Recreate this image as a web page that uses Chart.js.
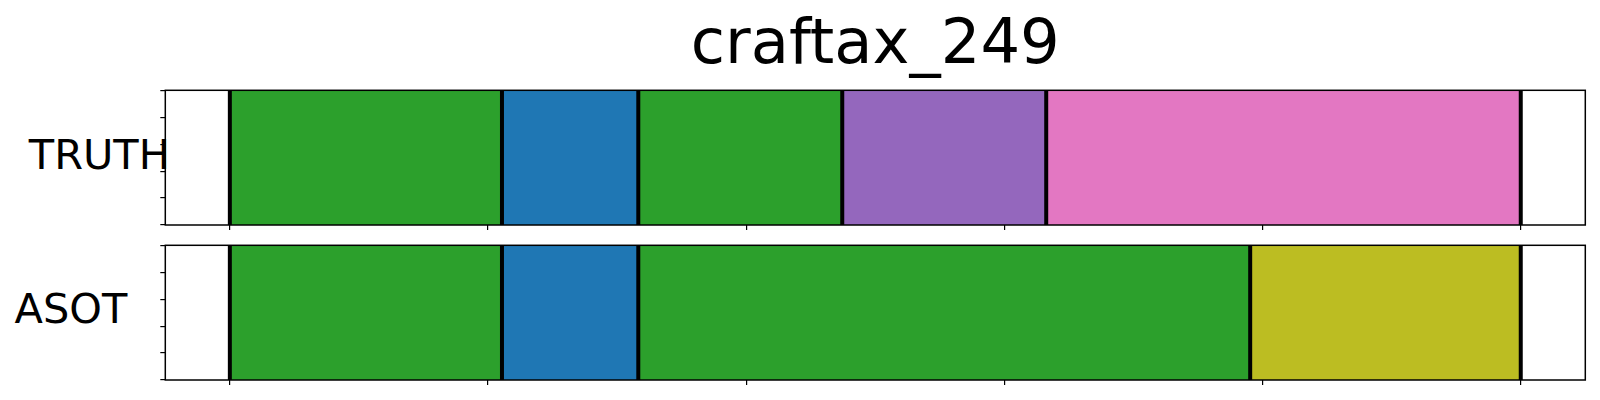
<!DOCTYPE html>
<html>
<head>
<meta charset="utf-8">
<script src="https://cdn.jsdelivr.net/npm/chart.js@4.4.1/dist/chart.umd.min.js"></script>
<style>
  html, body { margin: 0; padding: 0; background: #fff; }
  body { width: 1600px; height: 400px; position: relative; overflow: hidden; font-family: "DejaVu Sans", sans-serif; }
  canvas { position: absolute; left: 0; }
  .lbl { position: absolute; font-family: "DejaVu Sans", sans-serif; color: #000; white-space: nowrap; }
</style>
</head>
<body>
<div class="lbl" id="title" style="font-size:62.4px; line-height:62.4px; top:10.5px; left:875.3px; transform:translateX(-50%);">craftax_249</div>
<div class="lbl" id="lbl0" style="font-size:41.5px; line-height:41.5px; top:134.2px; left:28.8px;">TRUTH</div>
<div class="lbl" id="lbl1" style="font-size:41.5px; line-height:41.5px; top:288.2px; left:14.6px;">ASOT</div>
<canvas id="c0" width="1600" height="240" style="top:0px"></canvas>
<canvas id="c1" width="1600" height="160" style="top:240px"></canvas>
<script>
// ---- data ----
const rowNames = ['TRUTH', 'ASOT'];
const truthBounds = [0, 52.7, 79.1, 118.6, 158.1, 250];
const truthLabels = [2, 0, 2, 4, 6];          // action class per segment
const asotBounds = [0, 52.7, 79.1, 197.6, 250];
const asotLabels = [2, 0, 2, 8];
const xTicks = [0, 50, 100, 150, 200, 250];
const yTicks = [0, 0.25, 0.5, 0.75, 1];
const xMin = -12.5, xMax = 262.5;

// ---- style ----
const tab10 = ['#1f77b4', '#ff7f0e', '#2ca02c', '#d62728', '#9467bd',
               '#8c564b', '#e377c2', '#7f7f7f', '#bcbd22', '#17becf'];

const framePlugin = {
  id: 'frameAndBounds',
  afterDatasetsDraw(chart) {
    const { ctx, chartArea: a, scales } = chart;
    const bounds = chart.options.plugins.frameAndBounds.bounds;
    ctx.save();
    ctx.strokeStyle = '#000';
    ctx.lineWidth = 4;
    bounds.forEach(v => {
      const px = scales.x.getPixelForValue(v);
      ctx.beginPath();
      ctx.moveTo(px, a.top);
      ctx.lineTo(px, a.bottom);
      ctx.stroke();
    });
    ctx.lineWidth = 1.5;
    ctx.strokeRect(a.left, a.top, a.right - a.left, a.bottom - a.top);
    ctx.restore();
  }
};

function makeRow(canvasId, name, bounds, labels, pad) {
  const datasets = labels.map((cls, i) => ({
    label: name + ' ' + i,
    data: [[bounds[i], bounds[i + 1]]],
    backgroundColor: tab10[cls],
    borderWidth: 0,
    grouped: false,
    barPercentage: 1,
    categoryPercentage: 1
  }));
  return new Chart(document.getElementById(canvasId), {
    type: 'bar',
    data: { labels: [name], datasets },
    options: {
      indexAxis: 'y',
      responsive: false,
      animation: false,
      devicePixelRatio: 1,
      layout: { padding: pad },
      plugins: {
        legend: { display: false },
        tooltip: { enabled: false },
        title: { display: false },
        frameAndBounds: { bounds }
      },
      scales: {
        x: {
          type: 'linear', min: xMin, max: xMax,
          afterBuildTicks: s => { s.ticks = xTicks.map(v => ({ value: v })); },
          afterFit: s => { s.height = 10; },
          ticks: { display: false, stepSize: 50 },
          grid: { drawOnChartArea: false, drawTicks: true, tickLength: 5, color: '#000', lineWidth: 1.2 },
          border: { display: false }
        },
        y: { display: false },
        y2: {
          type: 'linear', position: 'left', min: 0, max: 1,
          afterBuildTicks: s => { s.ticks = yTicks.map(v => ({ value: v })); },
          afterFit: s => { s.width = 10; },
          ticks: { display: false, stepSize: 0.25 },
          grid: { drawOnChartArea: false, drawTicks: true, tickLength: 5, color: '#000', lineWidth: 1.2 },
          border: { display: false }
        }
      }
    },
    plugins: [framePlugin]
  });
}

makeRow('c0', rowNames[0], truthBounds, truthLabels, { left: 155.3, right: 14.7, top: 90.3, bottom: 5 });
makeRow('c1', rowNames[1], asotBounds, asotLabels, { left: 155.3, right: 14.7, top: 5.3, bottom: 10 });
</script>
</body>
</html>
